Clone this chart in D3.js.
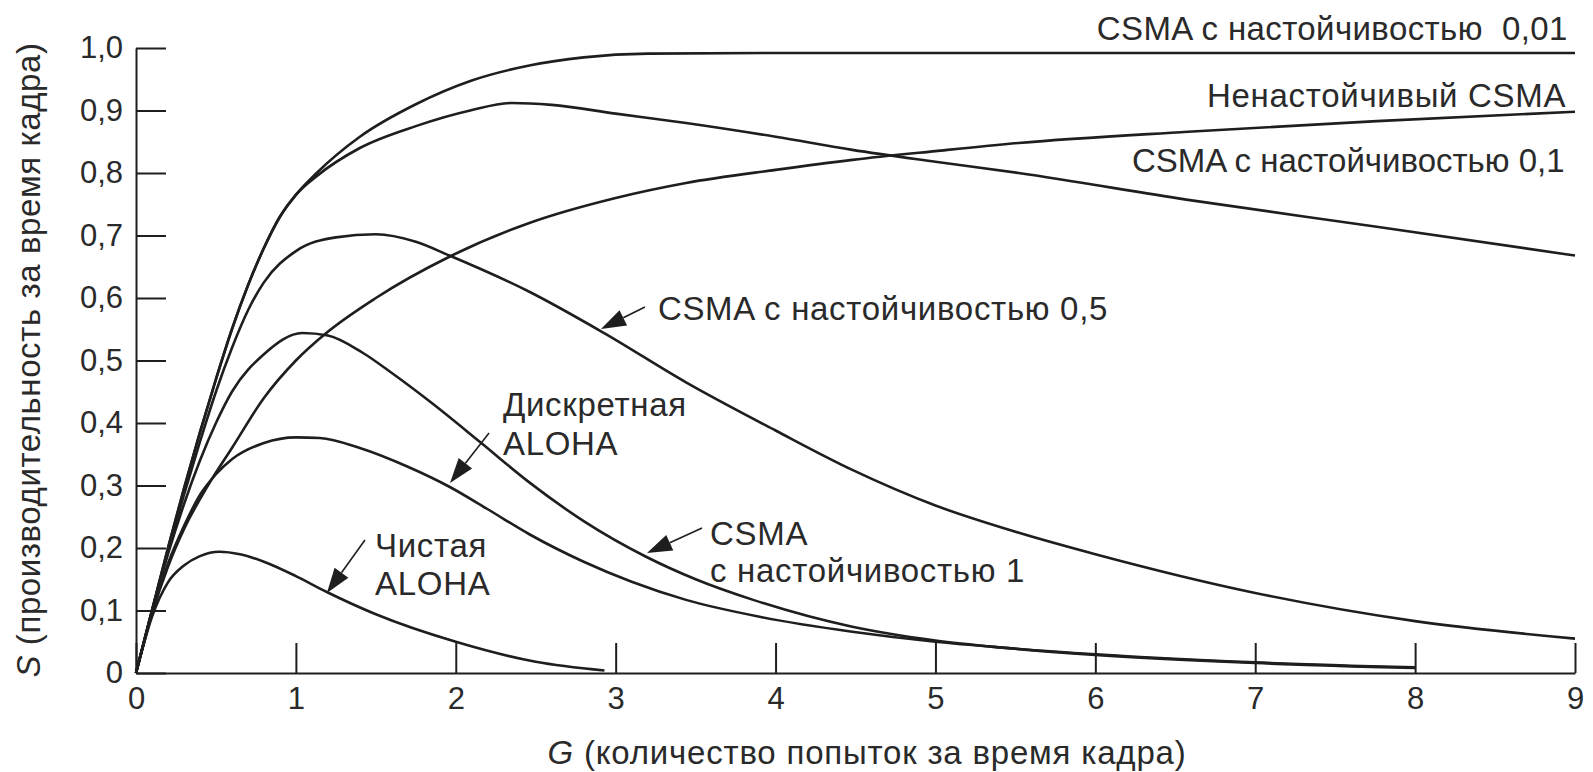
<!DOCTYPE html>
<html>
<head>
<meta charset="utf-8">
<script src="https://cdn.jsdelivr.net/npm/d3@7"></script>
<style>
  body { margin: 0; background: #fff; }
  svg { display: block; font-family: "Liberation Sans", Arial, sans-serif; }
</style>
</head>
<body>
<svg id="chart" width="1593" height="772"></svg>
<script>
'use strict';

// оси
var xTicks = [0, 1, 2, 3, 4, 5, 6, 7, 8, 9];
var yTicks = [0, 0.1, 0.2, 0.3, 0.4, 0.5, 0.6, 0.7, 0.8, 0.9, 1.0];
var yTickLabels = ['0', '0,1', '0,2', '0,3', '0,4', '0,5', '0,6', '0,7', '0,8', '0,9', '1,0'];

// кривые: [G, S]
var csma001 = [[0,0],[0.1,0.1],[0.2,0.2],[0.3,0.295],[0.4,0.385],[0.5,0.47],[0.6,0.55],[0.7,0.62],[0.8,0.68],[0.9,0.73],[1.0,0.765],[1.13,0.8],[1.4,0.858],[1.75,0.91],[2.1,0.948],[2.46,0.972],[2.8,0.985],[3.2,0.991],[4,0.992],[6,0.992],[9,0.992]];
var nonPersistent = [[0,0],[0.1,0.1],[0.2,0.2],[0.3,0.295],[0.4,0.385],[0.5,0.47],[0.6,0.55],[0.7,0.62],[0.8,0.68],[0.9,0.73],[1.0,0.765],[1.13,0.795],[1.4,0.84],[1.75,0.875],[2.09,0.9],[2.35,0.912],[2.6,0.909],[3.0,0.895],[3.44,0.88],[4.0,0.858],[4.48,0.837],[5.0,0.818],[5.52,0.8],[6.58,0.757],[7.76,0.714],[9.0,0.668]];
var csma01 = [[0,0],[0.1,0.095],[0.2,0.17],[0.3,0.23],[0.45,0.3],[0.6,0.36],[0.8,0.44],[1.0,0.5],[1.19,0.544],[1.5,0.6],[1.96,0.666],[2.46,0.72],[3.0,0.76],[3.44,0.784],[4.0,0.805],[4.48,0.821],[5.0,0.835],[5.52,0.848],[6.58,0.866],[7.76,0.883],[9.0,0.898]];
var csma05 = [[0,0],[0.1,0.1],[0.2,0.195],[0.3,0.285],[0.4,0.37],[0.5,0.45],[0.6,0.52],[0.7,0.58],[0.8,0.625],[1.0,0.675],[1.25,0.697],[1.5,0.702],[1.75,0.69],[1.96,0.668],[2.46,0.61],[2.92,0.545],[3.44,0.465],[4.0,0.388],[4.48,0.325],[5.0,0.268],[5.5,0.226],[6.0,0.19],[7.0,0.128],[8.0,0.083],[9.0,0.055]];
var csma1 = [[0,0],[0.1,0.1],[0.2,0.19],[0.3,0.27],[0.4,0.34],[0.5,0.4],[0.6,0.45],[0.8,0.51],[1.04,0.544],[1.2,0.54],[1.42,0.512],[1.6,0.48],[1.85,0.432],[2.15,0.37],[2.46,0.305],[2.8,0.243],[3.19,0.186],[3.5,0.15],[3.86,0.117],[4.48,0.074],[5.0,0.052],[5.4,0.041],[6.0,0.029],[7.0,0.016],[8.0,0.008]];
var slottedAloha = [[0,0],[0.1,0.095],[0.2,0.175],[0.3,0.235],[0.4,0.285],[0.5,0.318],[0.6,0.342],[0.8,0.368],[1.0,0.377],[1.15,0.376],[1.4,0.36],[1.7,0.33],[1.96,0.298],[2.2,0.262],[2.46,0.222],[2.8,0.178],[3.1,0.146],[3.44,0.117],[3.9,0.09],[4.48,0.066],[5.0,0.05],[5.4,0.041],[6.0,0.03],[7.0,0.017],[8.0,0.009]];
var pureAloha = [[0,0],[0.1,0.09],[0.2,0.145],[0.3,0.172],[0.4,0.187],[0.52,0.194],[0.65,0.19],[0.8,0.178],[1.0,0.155],[1.19,0.13],[1.5,0.094],[2.0,0.05],[2.5,0.018],[2.93,0.004]];

var series = [csma001, nonPersistent, csma01, csma05, csma1, slottedAloha, pureAloha];

// подписи (координаты в G, S)
var notes = [
  { lines: ['CSMA с настойчивостью\u00a0\u00a00,01'], g: 8.955, s: 1.013, anchor: 'end', gap: 0, ls: 0.4 },
  { lines: ['Ненастойчивый CSMA'], g: 8.945, s: 0.906, anchor: 'end', gap: 0, ls: 0.7 },
  { lines: ['CSMA с настойчивостью 0,1'], g: 8.935, s: 0.802, anchor: 'end', gap: 0, ls: 0 },
  { lines: ['CSMA с настойчивостью 0,5'], g: 3.264, s: 0.565, anchor: 'start', gap: 0, ls: 0.7 },
  { lines: ['Дискретная', 'ALOHA'], g: 2.295, s: 0.411, anchor: 'start', gap: 39, ls: 0.7 },
  { lines: ['CSMA', 'с\u00a0настойчивостью 1'], g: 3.59, s: 0.2045, anchor: 'start', gap: 37, ls: 0.7 },
  { lines: ['Чистая', 'ALOHA'], g: 1.495, s: 0.1856, anchor: 'start', gap: 38, ls: 0.7 }
];

var arrows = [
  { from: [3.183, 0.5856], to: [2.908, 0.5504] },
  { from: [2.208, 0.384], to: [1.964, 0.304] },
  { from: [3.54, 0.232], to: [3.196, 0.192] },
  { from: [1.432, 0.2128], to: [1.194, 0.128] }
];

var svg = d3.select('#chart');
var ink = '#1e1e1e';
var textInk = '#2a2a2a';

var x = d3.scaleLinear().domain([0, 9]).range([136, 1575]);
var y = d3.scaleLinear().domain([0, 1]).range([673, 48]);

// ось Y
var yAxis = svg.append('g')
  .attr('transform', 'translate(' + x(0) + ',0)')
  .call(d3.axisLeft(y)
    .tickValues(yTicks)
    .tickFormat(function (d, i) { return yTickLabels[i]; })
    .tickSizeInner(-30)
    .tickSizeOuter(0)
    .tickPadding(13));

// ось X
var xAxis = svg.append('g')
  .attr('transform', 'translate(0,' + y(0) + ')')
  .call(d3.axisBottom(x)
    .tickValues(xTicks)
    .tickFormat(function (d) { return d; })
    .tickSizeInner(-30)
    .tickSizeOuter(0)
    .tickPadding(14));

[yAxis, xAxis].forEach(function (ax) {
  ax.attr('font-family', null).attr('font-size', null).attr('color', ink);
  ax.selectAll('path, line').attr('stroke-width', 2);
  ax.selectAll('text').attr('fill', textInk).style('font-size', '31px');
});

var line = d3.line()
  .x(function (d) { return x(d[0]); })
  .y(function (d) { return y(d[1]); })
  .curve(d3.curveMonotoneX);

svg.append('g')
  .selectAll('path')
  .data(series)
  .enter()
  .append('path')
  .attr('d', line)
  .attr('fill', 'none')
  .attr('stroke', ink)
  .attr('stroke-width', 2.6)
  .attr('stroke-linejoin', 'round');

// подписи осей
var yTitle = svg.append('text')
  .attr('transform', 'translate(40,' + 360 + ') rotate(-90)')
  .attr('text-anchor', 'middle')
  .attr('fill', textInk)
  .style('font-size', '33px')
  .style('letter-spacing', '0.6px');
yTitle.append('tspan').attr('font-style', 'italic').text('S');
yTitle.append('tspan').text(' (производительность за время кадра)');

var xTitle = svg.append('text')
  .attr('x', 867)
  .attr('y', 764)
  .attr('text-anchor', 'middle')
  .attr('fill', textInk)
  .style('font-size', '33px')
  .style('letter-spacing', '0.8px');
xTitle.append('tspan').attr('font-style', 'italic').text('G');
xTitle.append('tspan').text(' (количество попыток за время кадра)');

// подписи кривых
var note = svg.append('g')
  .selectAll('text')
  .data(notes)
  .enter()
  .append('text')
  .attr('text-anchor', function (d) { return d.anchor; })
  .attr('fill', textInk)
  .style('font-size', '33px')
  .style('letter-spacing', function (d) { return d.ls + 'px'; });

note.selectAll('tspan')
  .data(function (d) {
    return d.lines.map(function (t, i) { return { t: t, i: i, d: d }; });
  })
  .enter()
  .append('tspan')
  .attr('x', function (p) { return x(p.d.g); })
  .attr('y', function (p) { return y(p.d.s) + p.i * p.d.gap; })
  .text(function (p) { return p.t; });

// стрелки
var arr = svg.append('g');
arrows.forEach(function (a) {
  var x1 = x(a.from[0]), y1 = y(a.from[1]);
  var x2 = x(a.to[0]), y2 = y(a.to[1]);
  var dx = x2 - x1, dy = y2 - y1;
  var len = Math.sqrt(dx * dx + dy * dy);
  var ux = dx / len, uy = dy / len;
  var head = 25, half = 8.5;
  var bx = x2 - ux * head, by = y2 - uy * head;
  arr.append('line')
    .attr('x1', x1).attr('y1', y1)
    .attr('x2', bx).attr('y2', by)
    .attr('stroke', ink)
    .attr('stroke-width', 1.6);
  arr.append('path')
    .attr('d', 'M' + x2 + ',' + y2 +
      'L' + (bx - uy * half) + ',' + (by + ux * half) +
      'L' + (bx + uy * half) + ',' + (by - ux * half) + 'Z')
    .attr('fill', ink);
});
</script>
</body>
</html>
